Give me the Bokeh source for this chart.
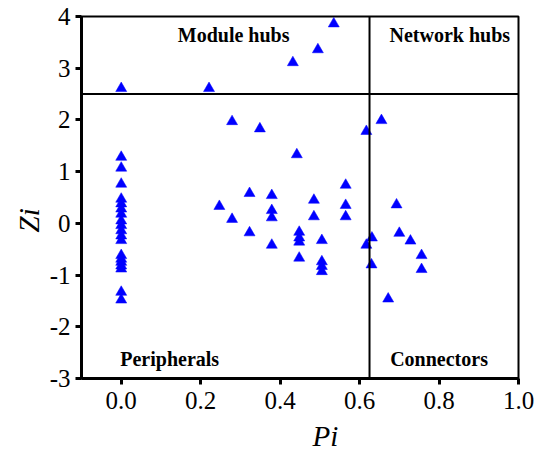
from bokeh.plotting import figure
from bokeh.models import Label, Span, FixedTicker, Range1d, Title
from bokeh.embed import file_html
from bokeh.resources import INLINE

# Peripheral nodes at Pi = 0
pi_zero = [0.0] * 20
zi_zero = [2.61, 1.28, 1.07, 0.76, 0.47, 0.38, 0.28, 0.18, 0.05, -0.04,
           -0.14, -0.24, -0.33, -0.62, -0.69, -0.75, -0.82, -0.88, -1.33, -1.48]

# Other nodes
pi_other = [0.221, 0.432, 0.495, 0.535,
            0.279, 0.349, 0.617, 0.655, 0.442, 0.565,
            0.323, 0.379, 0.485, 0.247, 0.565, 0.379,
            0.279, 0.379, 0.485, 0.565, 0.323, 0.448,
            0.448, 0.448, 0.505, 0.379, 0.617, 0.631,
            0.448, 0.505, 0.505, 0.505, 0.630, 0.672,
            0.693, 0.700, 0.728, 0.756, 0.756]
zi_other = [2.61, 3.11, 3.36, 3.86,
            1.97, 1.83, 1.78, 1.99, 1.33, 0.74,
            0.58, 0.54, 0.45, 0.33, 0.35, 0.25,
            0.08, 0.11, 0.13, 0.13, -0.18, -0.17,
            -0.28, -0.36, -0.33, -0.42, -0.42, -0.28,
            -0.67, -0.74, -0.83, -0.93, -0.80, -1.46,
            0.36, -0.19, -0.34, -0.62, -0.89]

pi_all = pi_zero + pi_other
zi_all = zi_zero + zi_other

pi_threshold = 0.625
zi_threshold = 2.5

x_ticks = [0.0, 0.2, 0.4, 0.6, 0.8, 1.0]
x_tick_labels = ["0.0", "0.2", "0.4", "0.6", "0.8", "1.0"]
y_ticks = [-3, -2, -1, 0, 1, 2, 3, 4]
y_tick_labels = ["-3", "-2", "-1", "0", "1", "2", "3", "4"]
x_title = "Pi"
y_title = "Zi"

quadrants = ["Module hubs", "Network hubs", "Peripherals", "Connectors"]
quad_x = [0.283, 0.827, 0.122, 0.80]
quad_y = [3.65, 3.65, -2.63, -2.63]

p = figure(width=547, height=461, output_backend="svg", toolbar_location=None,
           x_range=Range1d(-0.1, 1.0), y_range=Range1d(-3, 4),
           min_border_left=81, min_border_right=29, min_border_top=16,
           min_border_bottom=83)
p.grid.visible = False
p.outline_line_color = "black"
p.outline_line_width = 2
p.background_fill_color = "white"
p.border_fill_color = "white"

serif = "Liberation Serif"
p.axis.axis_line_width = 3
p.axis.axis_line_color = "black"
p.axis.major_tick_line_width = 3
p.axis.major_tick_in = 0
p.axis.major_tick_out = 6
p.axis.minor_tick_line_color = None
p.axis.major_label_text_font = serif
p.axis.major_label_text_font_size = "25px"
p.axis.major_label_text_color = "black"

p.xaxis.ticker = FixedTicker(ticks=x_ticks)
p.xaxis.major_label_overrides = dict(zip(x_ticks, x_tick_labels))
p.yaxis.ticker = FixedTicker(ticks=y_ticks)
p.yaxis.major_label_overrides = dict(zip(y_ticks, y_tick_labels))
p.xaxis.major_label_standoff = 7
p.yaxis.major_label_standoff = 5

p.add_layout(Title(text=x_title, align="left", offset=231, standoff=13,
                   text_font=serif, text_font_style="italic",
                   text_font_size="29px", text_color="black"), "below")
p.add_layout(Title(text=y_title, align="left", offset=146, standoff=4,
                   text_font=serif, text_font_style="italic",
                   text_font_size="29px", text_color="black"), "left")

p.add_layout(Span(location=pi_threshold, dimension="height", line_color="black", line_width=2))
p.add_layout(Span(location=zi_threshold, dimension="width", line_color="black", line_width=2))

p.scatter(pi_all, zi_all, marker="triangle", size=11, fill_color="#0000ff",
          line_color="#0000ff", line_width=0.5)

for txt, qx, qy in zip(quadrants, quad_x, quad_y):
    p.add_layout(Label(x=qx, y=qy, text=txt, text_font=serif, text_font_style="bold",
                       text_font_size="20px", text_align="center",
                       text_baseline="middle", text_color="black"))

open("out.html", "w").write(file_html(p, INLINE))
